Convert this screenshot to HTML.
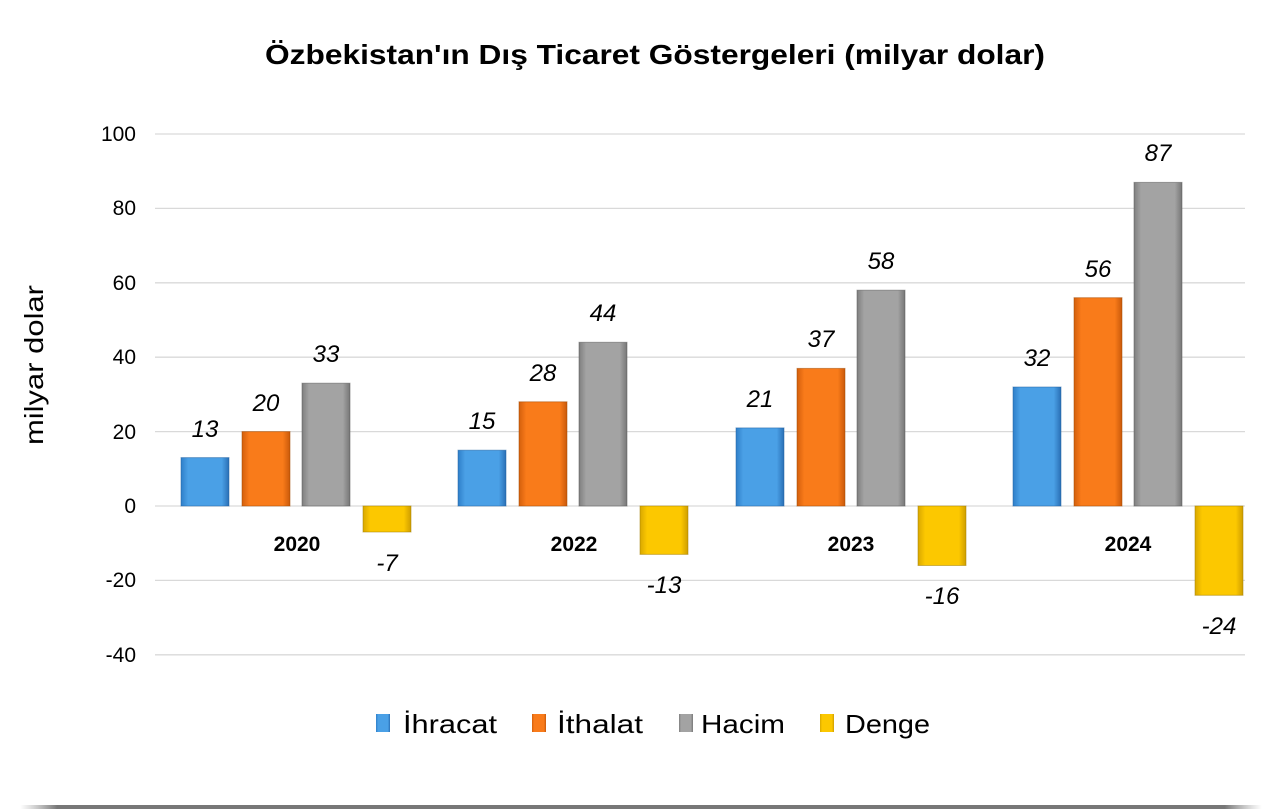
<!DOCTYPE html>
<html><head><meta charset="utf-8"><style>body{margin:0;background:#fff}svg{display:block}</style></head><body>
<svg width="1280" height="812" xmlns="http://www.w3.org/2000/svg" font-family="Liberation Sans, DejaVu Sans, sans-serif">
<defs>
<linearGradient id="b" x1="0" x2="1"><stop offset="0" stop-color="#2f7fc9"/><stop offset="0.15" stop-color="#4aa0e6"/><stop offset="0.85" stop-color="#4aa0e6"/><stop offset="1" stop-color="#2a6fb5"/></linearGradient>
<linearGradient id="o" x1="0" x2="1"><stop offset="0" stop-color="#d35f0c"/><stop offset="0.15" stop-color="#f97b1a"/><stop offset="0.85" stop-color="#f97b1a"/><stop offset="1" stop-color="#c9590a"/></linearGradient>
<linearGradient id="g" x1="0" x2="1"><stop offset="0" stop-color="#7f7f7f"/><stop offset="0.15" stop-color="#a3a3a3"/><stop offset="0.85" stop-color="#a3a3a3"/><stop offset="1" stop-color="#777"/></linearGradient>
<linearGradient id="y" x1="0" x2="1"><stop offset="0" stop-color="#d9a800"/><stop offset="0.15" stop-color="#fcc800"/><stop offset="0.85" stop-color="#fcc800"/><stop offset="1" stop-color="#cf9e00"/></linearGradient>
<linearGradient id="sh" x1="0" x2="1"><stop offset="0" stop-color="#999" stop-opacity="0"/><stop offset="0.03" stop-color="#777"/><stop offset="0.97" stop-color="#777"/><stop offset="1" stop-color="#999" stop-opacity="0"/></linearGradient>
</defs>
<text x="265" y="64" font-size="28" font-weight="bold" textLength="780" lengthAdjust="spacingAndGlyphs">Özbekistan'ın Dış Ticaret Göstergeleri (milyar dolar)</text>
<g stroke="#d9d9d9" stroke-width="1.3">
<line x1="155" x2="1245" y1="134" y2="134"/><line x1="155" x2="1245" y1="208.4" y2="208.4"/><line x1="155" x2="1245" y1="282.8" y2="282.8"/><line x1="155" x2="1245" y1="357.2" y2="357.2"/><line x1="155" x2="1245" y1="431.6" y2="431.6"/><line x1="155" x2="1245" y1="506" y2="506"/><line x1="155" x2="1245" y1="580.4" y2="580.4"/><line x1="155" x2="1245" y1="654.8" y2="654.8"/>
</g>
<g font-size="21" text-anchor="end" fill="#000">
<text x="136" y="141">100</text><text x="136" y="215">80</text><text x="136" y="290">60</text><text x="136" y="364">40</text><text x="136" y="439">20</text><text x="136" y="513">0</text><text x="136" y="587">-20</text><text x="136" y="662">-40</text>
</g>
<text transform="translate(43,365) rotate(-90)" text-anchor="middle" font-size="26" textLength="160" lengthAdjust="spacingAndGlyphs">milyar dolar</text>
<g stroke-width="1" stroke-opacity="0.5">
<rect x="181" y="457.6" width="48" height="48.4" fill="url(#b)" stroke="#1f5f9f"/>
<rect x="242" y="431.6" width="48" height="74.4" fill="url(#o)" stroke="#a04800"/>
<rect x="302" y="383.2" width="48" height="122.8" fill="url(#g)" stroke="#555"/>
<rect x="363" y="506" width="48" height="26" fill="url(#y)" stroke="#a07c00"/>
<rect x="458" y="450.2" width="48" height="55.8" fill="url(#b)" stroke="#1f5f9f"/>
<rect x="519" y="401.8" width="48" height="104.2" fill="url(#o)" stroke="#a04800"/>
<rect x="579" y="342.3" width="48" height="163.7" fill="url(#g)" stroke="#555"/>
<rect x="640" y="506" width="48" height="48.4" fill="url(#y)" stroke="#a07c00"/>
<rect x="736" y="427.9" width="48" height="78.1" fill="url(#b)" stroke="#1f5f9f"/>
<rect x="797" y="368.4" width="48" height="137.6" fill="url(#o)" stroke="#a04800"/>
<rect x="857" y="290.2" width="48" height="215.8" fill="url(#g)" stroke="#555"/>
<rect x="918" y="506" width="48" height="59.5" fill="url(#y)" stroke="#a07c00"/>
<rect x="1013" y="387" width="48" height="119" fill="url(#b)" stroke="#1f5f9f"/>
<rect x="1074" y="297.7" width="48" height="208.3" fill="url(#o)" stroke="#a04800"/>
<rect x="1134" y="182.4" width="48" height="323.6" fill="url(#g)" stroke="#555"/>
<rect x="1195" y="506" width="48" height="89.3" fill="url(#y)" stroke="#a07c00"/>
</g>
<g font-size="24" font-style="italic" text-anchor="middle">
<text x="205" y="437">13</text><text x="266" y="411">20</text><text x="326" y="362">33</text><text x="387" y="571">-7</text>
<text x="482" y="429">15</text><text x="543" y="381">28</text><text x="603" y="321">44</text><text x="664" y="593">-13</text>
<text x="760" y="407">21</text><text x="821" y="347">37</text><text x="881" y="269">58</text><text x="942" y="604">-16</text>
<text x="1037" y="366">32</text><text x="1098" y="277">56</text><text x="1158" y="161">87</text><text x="1219" y="634">-24</text>
</g>
<g font-size="21" font-weight="bold" text-anchor="middle">
<text x="297" y="551">2020</text><text x="574" y="551">2022</text><text x="851" y="551">2023</text><text x="1128" y="551">2024</text>
</g>
<g font-size="26">
<rect x="376" y="714" width="14" height="18" fill="url(#b)"/><text x="403" y="733" textLength="94" lengthAdjust="spacingAndGlyphs">İhracat</text>
<rect x="532" y="714" width="14" height="18" fill="url(#o)"/><text x="557" y="733" textLength="86" lengthAdjust="spacingAndGlyphs">İthalat</text>
<rect x="679" y="714" width="14" height="18" fill="url(#g)"/><text x="701" y="733" textLength="84" lengthAdjust="spacingAndGlyphs">Hacim</text>
<rect x="820" y="714" width="14" height="18" fill="url(#y)"/><text x="845" y="733" textLength="85" lengthAdjust="spacingAndGlyphs">Denge</text>
</g>
<rect x="20" y="805" width="1242" height="4" fill="url(#sh)"/>
</svg>
</body></html>
